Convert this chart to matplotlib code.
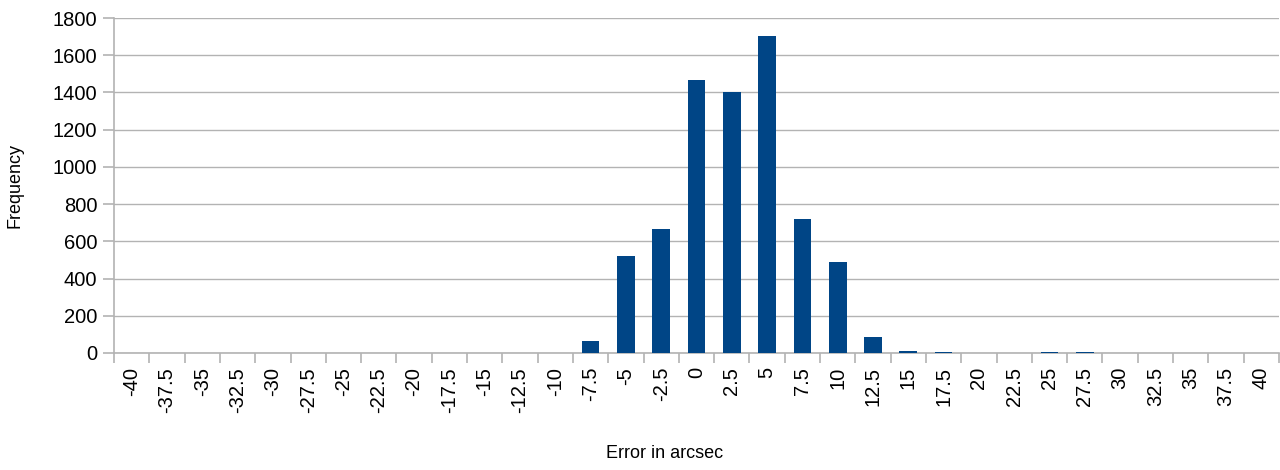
import matplotlib
matplotlib.use("Agg")
import matplotlib.pyplot as plt
import numpy as np

categories = ["-40", "-37.5", "-35", "-32.5", "-30", "-27.5", "-25", "-22.5", "-20",
              "-17.5", "-15", "-12.5", "-10", "-7.5", "-5", "-2.5", "0", "2.5", "5",
              "7.5", "10", "12.5", "15", "17.5", "20", "22.5", "25", "27.5", "30",
              "32.5", "35", "37.5", "40"]
frequency = [0, 0, 0, 0, 0, 0, 0, 0, 0,
             0, 0, 0, 0, 65, 520, 665, 1465, 1405, 1705,
             720, 490, 85, 10, 5, 0, 0, 3, 3, 0,
             0, 0, 0, 0]
y_ticks = [0, 200, 400, 600, 800, 1000, 1200, 1400, 1600, 1800]

plt.rcParams['font.family'] = ['Liberation Sans', 'DejaVu Sans']
fig = plt.figure(figsize=(12.8, 4.7), dpi=100)
ax = fig.add_axes([114/1280, 1-353/470, (1279-114)/1280, (353-18)/470])

x = np.arange(len(categories))
ax.bar(x, frequency, width=0.5, color="#004586", zorder=3)

ax.set_xlim(-0.5, len(categories) - 0.5)
ax.set_ylim(0, 1800)
ax.set_yticks(y_ticks)
ax.set_yticklabels([str(v) for v in y_ticks], fontsize=14.5)

ax.set_xticks(np.arange(len(categories) + 1) - 0.5)
ax.set_xticklabels([])
ax.set_xticks(x, minor=True)
ax.set_xticklabels(categories, minor=True, rotation=90, fontsize=14.5)
ax.tick_params(axis='x', which='minor', length=0, pad=10)
ax.tick_params(axis='x', which='major', length=7, color="#b3b3b3", width=1.2)
ax.tick_params(axis='y', length=8, color="#b3b3b3", width=1.2, pad=4)

ax.grid(axis='y', color="#b3b3b3", linewidth=1, zorder=0)
for s in ['top', 'right']:
    ax.spines[s].set_visible(False)
for s in ['left', 'bottom']:
    ax.spines[s].set_color("#b3b3b3")
    ax.spines[s].set_linewidth(1.2)

fig.text(15/1280, 1-185/470, "Frequency", rotation=90, ha='center', va='center', fontsize=13)
fig.text(665/1280, 1-453/470, "Error in arcsec", ha='center', va='center', fontsize=13)

fig.savefig("out.png", dpi=100)
